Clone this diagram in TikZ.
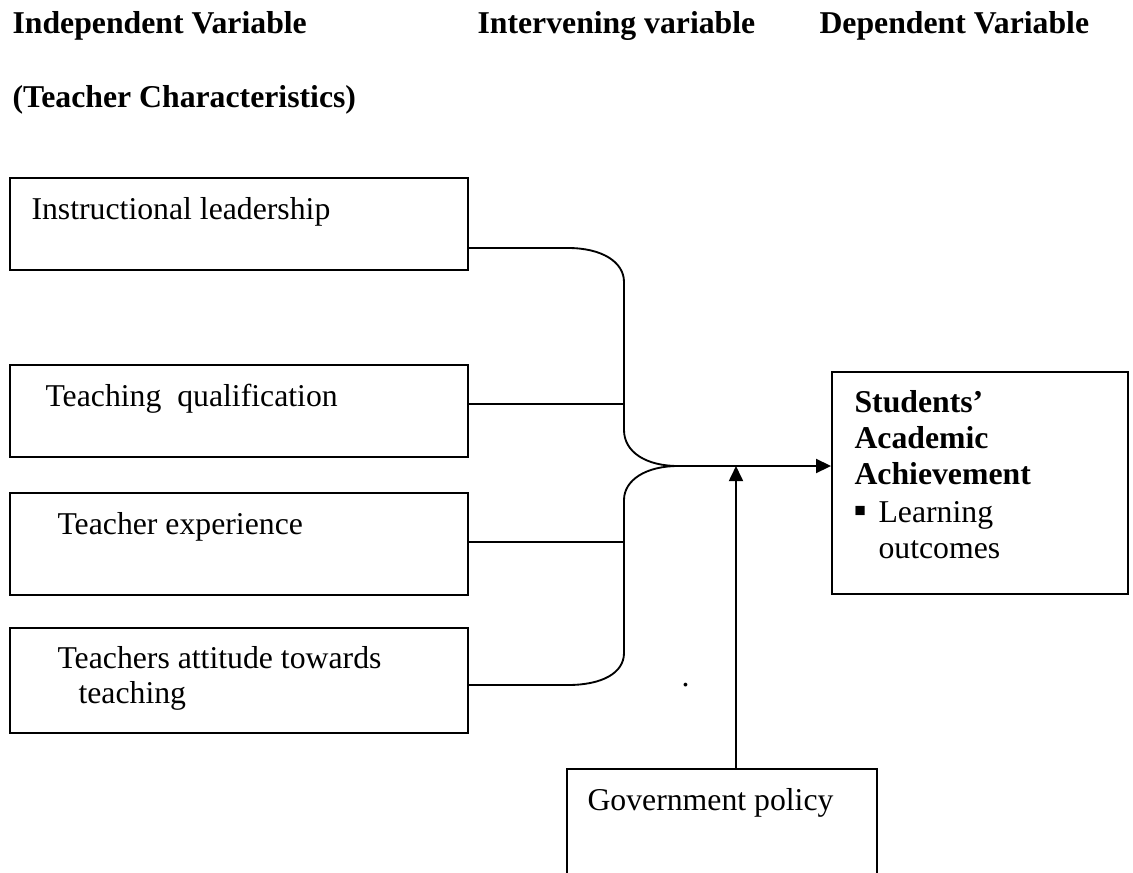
\documentclass[tikz,border=0pt]{standalone}
\usepackage{fontspec}
\setmainfont{Liberation Serif}
\usetikzlibrary{arrows.meta,fit}
\begin{document}
\begin{tikzpicture}[x=0.378pt,y=-0.378pt,
  box/.style={draw,line width=0.7pt,inner sep=0pt,rectangle},
  txt/.style={anchor=base west,inner sep=0pt,font=\fontsize{12pt}{13.8pt}\selectfont},
  head/.style={txt,font=\fontsize{12pt}{13.8pt}\selectfont\bfseries},
  wire/.style={line width=0.7pt},
  arr/.style={wire,-{Triangle[length=5.7pt,width=5.3pt]}}]
\clip (0,0) rectangle (1133,872);

% column headings
\node[head] (h1) at (12,33) {Independent Variable};
\node[head] (h2) at (12,107) {(Teacher Characteristics)};
\node[head] (h3) at (477,33) {Intervening variable};
\node[head] (h4) at (819,33) {Dependent Variable};

% teacher characteristics
\node[box,fit={(10,178) (468,270)}] (b1) {};
\node[txt] (t1) at (31,219) {Instructional leadership};
\node[box,fit={(10,365) (468,457)}] (b2) {};
\node[txt] (t2) at (45,406) {Teaching\ \ qualification};
\node[box,fit={(10,493) (468,595)}] (b3) {};
\node[txt] (t3) at (57,534) {Teacher experience};
\node[box,fit={(10,628) (468,733)}] (b4) {};
\node[txt] (t4a) at (57,668) {Teachers attitude towards};
\node[txt] (t4b) at (78,703) {teaching};

% outcome
\node[box,fit={(832,372) (1128,594)}] (sa) {};
\node[head] (s1) at (854,412) {Students’};
\node[head] (s2) at (854,448) {Academic};
\node[head] (s3) at (854,484) {Achievement};
\node[txt,font=\fontsize{14pt}{14pt}\selectfont] (s4) at (853,522) {▪};
\node[txt] (s5) at (878,522) {Learning};
\node[txt] (s6) at (878,558) {outcomes};

% intervening variable
\node[box,fit={(567,769) (877,900)}] (gov) {};
\node[txt] (g1) at (587,810) {Government policy};

\node[txt] (dot) at (681,686) {.};

% merging connectors
\coordinate (m) at (678,466);
\draw[wire] (b1.east |- 0,248) -- (568,248)
  .. controls (602,248) and (624,262) .. (624,282) -- (624,430)
  .. controls (624,452) and (646,466) .. (m);
\draw[wire] (m) .. controls (646,466) and (624,480) .. (624,500) -- (624,653)
  .. controls (624,673) and (602,685) .. (568,685) -- (b4.east |- 0,685);
\draw[wire] (b2.east |- 0,404) -- (624,404);
\draw[wire] (b3.east |- 0,542) -- (624,542);
\draw[arr] (m) -- (sa.west |- m);
\draw[arr] (gov.north -| 736,0) -- (736,0 |- m);
\end{tikzpicture}
\end{document}
